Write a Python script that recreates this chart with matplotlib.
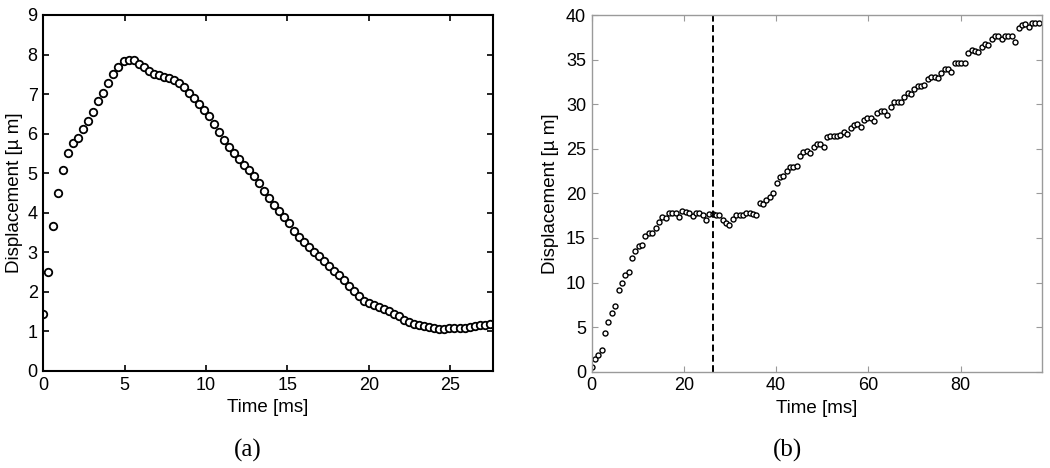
import matplotlib
matplotlib.use('Agg')
import matplotlib.pyplot as plt
import numpy as np

plt.rcParams['font.family'] = ['Liberation Sans', 'DejaVu Sans']

# (a) displacement trace, sampled every dt_a ms
dt_a = 0.308
disp_a = [1.43, 2.49, 3.67, 4.51, 5.08, 5.51, 5.77, 5.90, 6.13, 6.32,
          6.55, 6.82, 7.03, 7.27, 7.50, 7.69, 7.84, 7.86, 7.85, 7.76,
          7.68, 7.59, 7.52, 7.47, 7.44, 7.41, 7.35, 7.27, 7.18, 7.04,
          6.89, 6.75, 6.60, 6.45, 6.24, 6.05, 5.84, 5.66, 5.50, 5.35,
          5.21, 5.08, 4.92, 4.75, 4.56, 4.37, 4.19, 4.04, 3.89, 3.73,
          3.53, 3.39, 3.26, 3.13, 3.01, 2.90, 2.77, 2.65, 2.53, 2.42,
          2.29, 2.16, 2.02, 1.89, 1.78, 1.73, 1.68, 1.63, 1.57, 1.51,
          1.45, 1.38, 1.30, 1.24, 1.19, 1.15, 1.13, 1.11, 1.08, 1.07,
          1.07, 1.08, 1.08, 1.09, 1.09, 1.11, 1.13, 1.15, 1.17, 1.19]

# (b) displacement trace, sampled every dt_b ms
dt_b = 0.729
disp_b = [0.47, 1.40, 1.85, 2.41, 4.36, 5.59, 6.60, 7.39, 9.15, 9.97,
          10.83, 11.20, 12.80, 13.56, 14.08, 14.20, 15.20, 15.58, 15.58, 16.07,
          16.80, 17.40, 17.20, 17.76, 17.76, 17.80, 17.40, 18.05, 17.90, 17.76,
          17.50, 17.76, 17.76, 17.60, 17.00, 17.70, 17.70, 17.60, 17.60, 17.00,
          16.70, 16.40, 17.10, 17.60, 17.60, 17.60, 17.76, 17.76, 17.70, 17.60,
          18.90, 18.80, 19.30, 19.55, 20.07, 21.20, 21.80, 21.90, 22.50, 23.00,
          23.00, 23.06, 24.20, 24.67, 24.80, 24.56, 25.20, 25.50, 25.50, 25.20,
          26.30, 26.40, 26.40, 26.40, 26.50, 26.90, 26.70, 27.30, 27.70, 27.80,
          27.50, 28.20, 28.40, 28.40, 28.15, 29.00, 29.20, 29.20, 28.80, 29.65,
          30.30, 30.30, 30.30, 30.80, 31.30, 31.20, 31.70, 32.00, 32.10, 32.20,
          32.80, 33.10, 33.00, 32.90, 33.50, 34.00, 34.00, 33.65, 34.66, 34.66,
          34.60, 34.66, 35.80, 36.10, 36.00, 35.90, 36.45, 36.80, 36.60, 37.30,
          37.60, 37.60, 37.30, 37.60, 37.60, 37.60, 37.00, 38.60, 38.90, 39.00,
          38.70, 39.15, 39.15, 39.15]
t_marker_b = 26.4

t_a = np.arange(len(disp_a)) * dt_a
t_b = np.arange(len(disp_b)) * dt_b

fig = plt.figure(figsize=(10.5, 4.68), dpi=100)
ax1 = fig.add_axes([0.0412, 0.2073, 0.428, 0.7607])
ax2 = fig.add_axes([0.5635, 0.2058, 0.4286, 0.762])

# panel a
ax1.plot(t_a, disp_a, 'o', mfc='white', mec='black', ms=5.4, mew=1.3)
ax1.set_xlim(0, 27.6)
ax1.set_ylim(0, 9)
ax1.set_xticks([0, 5, 10, 15, 20, 25])
ax1.set_yticks(range(0, 10))
for s in ax1.spines.values():
    s.set_linewidth(1.5)
    s.set_color('black')
ax1.tick_params(direction='in', length=4, width=1.2, top=True, right=True,
                labelsize=13, pad=4)
ax1.set_xlabel('Time [ms]', fontsize=13.5, labelpad=4)
ax1.set_ylabel('Displacement [\u00b5 m]', fontsize=13.5, labelpad=3)

# panel b
ax2.plot(t_b, disp_b, 'o', mfc='white', mec='black', ms=3.6, mew=1.0)
ax2.axvline(t_marker_b, color='black', lw=1.4, dashes=(3.5, 1.8))
ax2.set_xlim(0, 97.6)
ax2.set_ylim(0, 40)
ax2.set_xticks([0, 20, 40, 60, 80])
ax2.set_yticks(range(0, 45, 5))
for s in ax2.spines.values():
    s.set_linewidth(1.0)
    s.set_color('#9a9a9a')
ax2.tick_params(direction='in', length=4, width=0.8, color='#9a9a9a',
                top=True, right=True, labelsize=13, pad=4)
ax2.set_xlabel('Time [ms]', fontsize=13.5, labelpad=4)
ax2.set_ylabel('Displacement [\u00b5 m]', fontsize=13.5, labelpad=5)

fig.text(248 / 1050, 1 - 450 / 468, '(a)', ha='center', va='center',
         fontsize=18, family='Liberation Serif')
fig.text(787 / 1050, 1 - 450 / 468, '(b)', ha='center', va='center',
         fontsize=18, family='Liberation Serif')

fig.savefig('out.png', dpi=100)
